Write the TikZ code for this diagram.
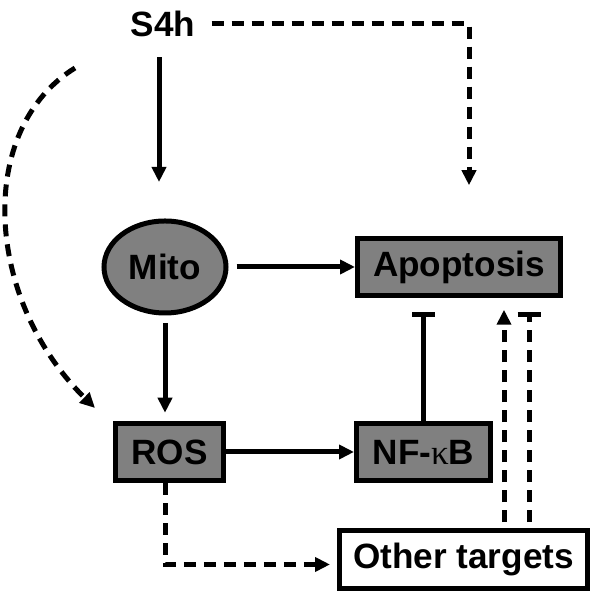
\documentclass[tikz,border=0pt]{standalone}
\usepackage{fontspec}
\setmainfont{Liberation Sans}
\newfontfamily\kappafont{Liberation Serif}
\usetikzlibrary{arrows.meta,shapes.geometric}

\begin{document}
\begin{tikzpicture}[line width=.1cm,
  every node/.style={font=\fontsize{20}{24}\selectfont\bfseries},
  box/.style={draw, fill=gray, line width=.1cm, minimum height=1.15cm},
  act/.style={-{Triangle[length=.3cm,width=.28cm]}},
  inh/.style={-{Bar[width=.46cm]}},
  dsh/.style={dash pattern=on .24cm off .16cm}]
\useasboundingbox (0,0) rectangle (12,11.96);

\node[inner sep=0] at (3.26,11.48) (s4h) {S4h};
\node[box, ellipse, minimum width=2.44cm, minimum height=1.84cm] at (3.30,6.62) (mito) {Mito};
\node[box, minimum width=4.06cm] at (9.18,6.62) (apop) {Apoptosis};
\node[box, minimum width=2.16cm] at (3.39,2.92) (ros) {ROS};
\node[box, minimum width=2.68cm] at (8.47,2.92) (nfkb) {NF-{\kappafont\mdseries κ}B};
\node[box, fill=white, minimum width=4.96cm] at (9.27,.77) (other) {Other targets};

\coordinate (cstart) at (1.50,10.60);
\coordinate (cend) at (1.90,3.80);

\draw[act, shorten <=.36cm, shorten >=.73cm] ([xshift=-.08cm]s4h.south) -- ([xshift=-.08cm]s4h.south |- mito.north);
\draw[act, dsh, shorten <=.28cm, shorten >=1.01cm] (s4h.east) -| ([xshift=.2cm]apop.north);
\draw[act, dsh] (cstart) .. controls (-.5,9.36) and (-.3,5.96) .. (cend);

\draw[act, shorten <=.16cm] (mito) -- (apop);
\draw[act, shorten <=.15cm, shorten >=.16cm] (mito.south) -- (mito.south |- ros.north);
\draw[act] (ros) -- (nfkb);
\draw[inh, shorten >=.27cm] (nfkb.north) -- (nfkb.north |- apop.south);

\draw[act, dsh, shorten >=.14cm] ([xshift=-.09cm]ros.south) |- ([yshift=-.1cm]other.west);
\draw[act, dsh, shorten <=.12cm, shorten >=.23cm] ([xshift=.81cm]other.north) -- ([xshift=.81cm]other.north |- apop.south);
\draw[inh, dsh, shorten <=.12cm, shorten >=.27cm] ([xshift=1.31cm]other.north) -- ([xshift=1.31cm]other.north |- apop.south);
\end{tikzpicture}
\end{document}
